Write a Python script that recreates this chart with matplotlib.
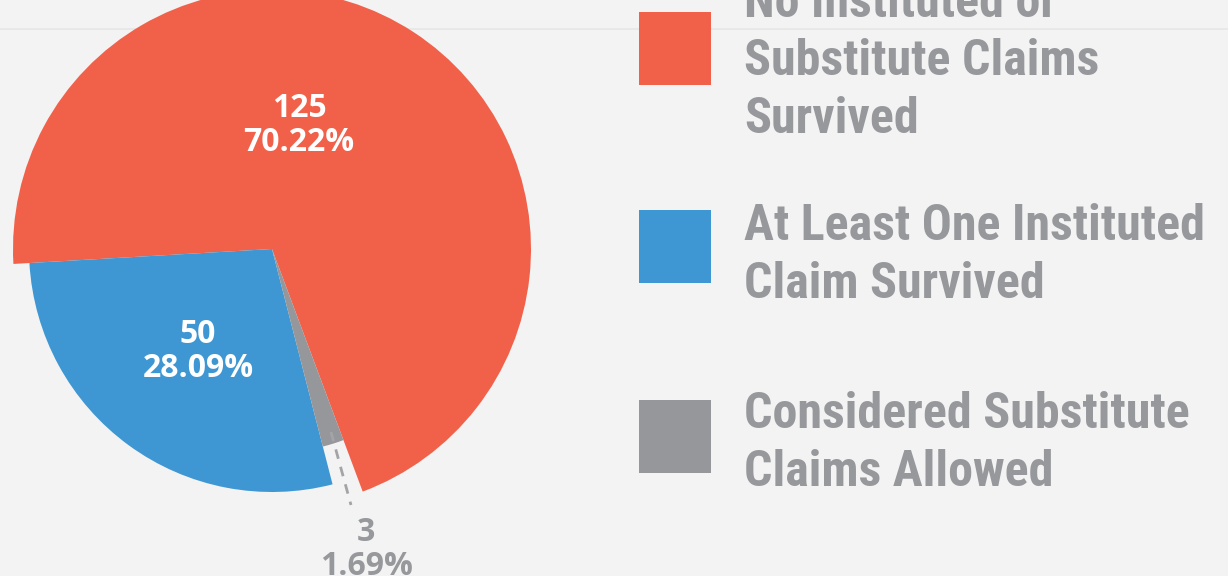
import matplotlib
matplotlib.use("Agg")
import matplotlib.pyplot as plt
from matplotlib import font_manager

# ---- data ----
labels = ["No Instituted or\nSubstitute Claims\nSurvived",
          "At Least One Instituted\nClaim Survived",
          "Considered Substitute\nClaims Allowed"]
counts = [125, 50, 3]
colors = ["#f1614a", "#3e97d3", "#96979b"]

W, H = 1228, 576
BG = "#f3f3f3"
TXT = "#97989c"

names = {f.name for f in font_manager.fontManager.ttflist}
legend_font = [f for f in ["Roboto Condensed", "Liberation Sans Narrow", "Roboto"] if f in names] + ["DejaVu Sans"]
lab_font = [f for f in ["Open Sans", "Lato"] if f in names] + ["DejaVu Sans"]

fig = plt.figure(figsize=(W / 100, H / 100), dpi=100, facecolor=BG)
ax = fig.add_axes([0, 0, 1, 1])
ax.set_facecolor(BG)

# faint rule near the top
ax.axhline(H - 29, color="#e6e6e6", lw=1.2, zorder=0)

# each slice drawn with its own radius, like the original
center = (272, H - 249)
radii = [259, 243, 204]
wedges, _ = ax.pie(counts, colors=colors, startangle=-69.5, counterclock=True,
                   center=center, radius=259, frame=True,
                   wedgeprops=dict(linewidth=0))
for w, r in zip(wedges, radii):
    w.set_radius(r)
ax.set_xlim(0, W)
ax.set_ylim(0, H)
ax.set_aspect("equal")
ax.axis("off")

total = sum(counts)
pct = [c / total * 100 for c in counts]


def two_line(x, y_base, top, bottom, color):
    kw = dict(ha="center", va="baseline", color=color, fontsize=23,
              fontweight="bold", family=lab_font)
    ax.text(x, H - y_base, top, **kw)
    ax.text(x, H - (y_base + 34), bottom, **kw)


two_line(299, 117, f"{counts[0]}", f"{pct[0]:.2f}%", "white")
two_line(198, 343, f"{counts[1]}", f"{pct[1]:.2f}%", "white")
ax.plot([331, 351], [H - 432, H - 505], ls=(0, (3.5, 3)), color="#a3a4a7", lw=2)
two_line(366, 541, f"{counts[2]}", f"{pct[2]:.2f}%", TXT)

# legend
sq_tops = [12, 210, 400]
baselines = [17, 240, 428]
for lab, col, st, b in zip(labels, colors, sq_tops, baselines):
    ax.add_patch(plt.Rectangle((639, H - st - 73), 72, 73, color=col, lw=0))
    for i, line in enumerate(lab.split("\n")):
        ax.text(744, H - (b + 58 * i), line, ha="left", va="baseline",
                color=TXT, fontsize=36, fontweight="bold", family=legend_font)

fig.savefig("out.png", dpi=100, facecolor=BG)
